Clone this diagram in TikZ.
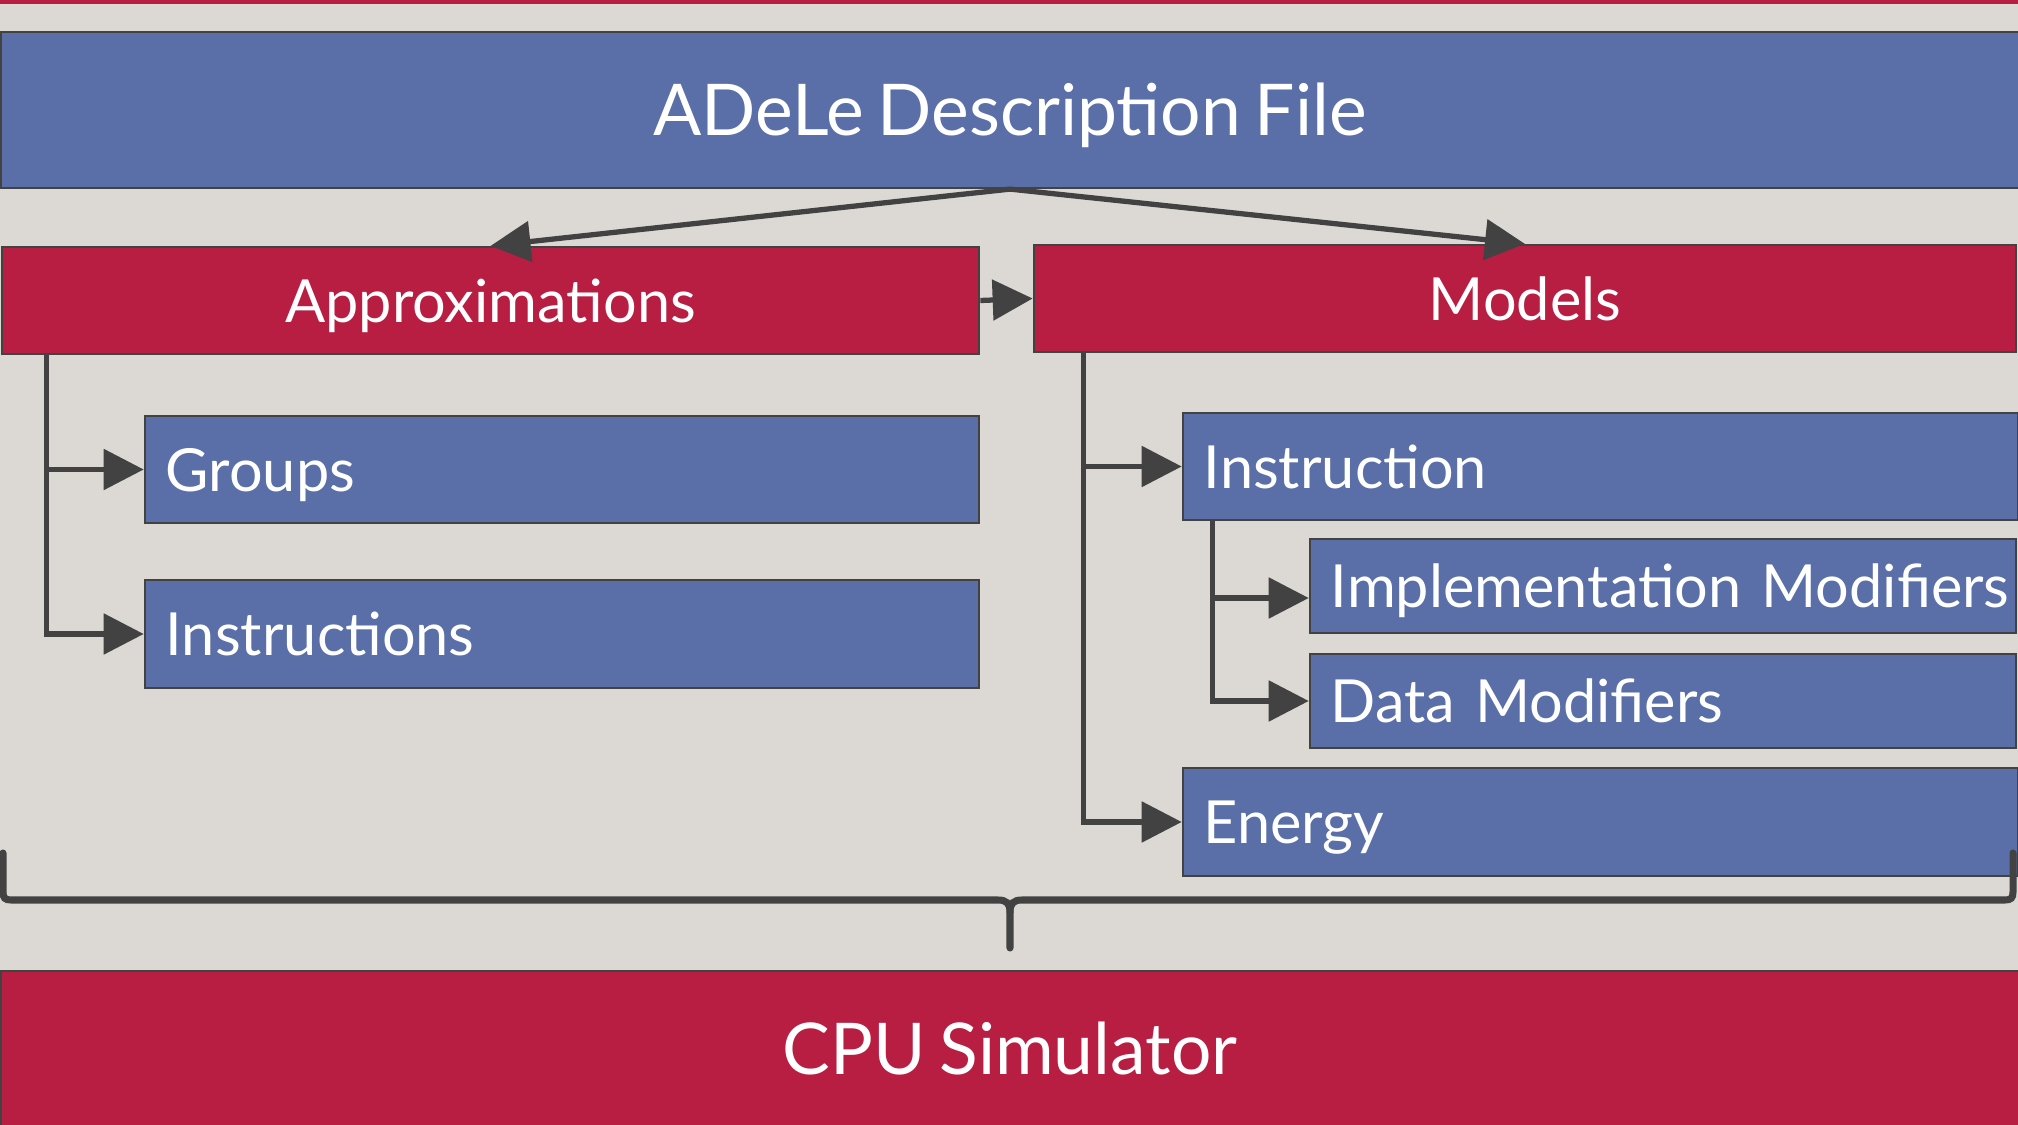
\documentclass[tikz,border=0pt]{standalone}
\usepackage{fontspec}
\setmainfont{Lato}[WordSpace=0.75]
\usetikzlibrary{arrows.meta, positioning, calc}
\definecolor{slideblue}{HTML}{5A6FA7}
\definecolor{slidered}{HTML}{B81E42}
\definecolor{edgegray}{HTML}{424242}
\definecolor{paperlight}{HTML}{E8E6E2}
\definecolor{paperdark}{HTML}{DCD9D4}

\tikzset{
  box/.style={rectangle, draw=edgegray, line width=0.6pt, text=white, inner sep=0pt},
  bluebox/.style={box, fill=slideblue},
  redbox/.style={box, fill=slidered},
  bigtxt/.style={font=\fontsize{20.3}{24}\selectfont, text height=0.51cm, text depth=0pt},
  midtxt/.style={font=\fontsize{16.9}{20}\selectfont, text height=0.43cm, text depth=0pt},
  listbox/.style={bluebox, midtxt, align=left, inner xsep=0.21cm},
  link/.style={draw=edgegray, line width=1.5pt, -{Triangle[length=0.4cm, width=0.4cm]}},
  brace/.style={draw=edgegray, line width=2pt, line cap=round}
}

\begin{document}
\begin{tikzpicture}[x=0.01cm, y=-0.01cm]
    % Slide background
    \useasboundingbox (0,0) rectangle (2018,1125);
    \clip (0,0) rectangle (2018,1125);
    \shade[left color=paperdark, middle color=paperlight, right color=paperdark] (0,0) rectangle (2018,1125);
    \fill[slidered] (0,0) rectangle (2018,4);

    % Top level file
    \node[bluebox, bigtxt, minimum width=20.16cm, minimum height=1.56cm] (adele) at (1010,110) {ADeLe Description File};

    % Two main sections
    \node[redbox, midtxt, minimum width=9.77cm, minimum height=1.07cm] (approx) at (490.5,300.5) {Approximations};
    \node[redbox, midtxt, minimum width=9.82cm, minimum height=1.07cm] (models) at (1525,298.5) {Models};

    % Approximations entries
    \node[listbox, text width=7.92cm, minimum height=1.07cm] (groups) at (562,469.5) {Groups};
    \node[listbox, text width=7.92cm, minimum height=1.08cm] (instrs) at (562,634) {Instructions};

    % Models entries
    \node[listbox, text width=7.93cm, minimum height=1.07cm] (instr) at (1600.5,466.5) {Instruction};
    \node[listbox, text width=6.64cm, minimum height=0.94cm] (implmod) at (1663,586) {\mbox{Implementation Modifiers}};
    \node[listbox, text width=6.64cm, minimum height=0.94cm] (datamod) at (1663,701) {Data Modifiers};
    \node[listbox, text width=7.93cm, minimum height=1.08cm] (energy) at (1600.5,822) {Energy};

    % Generated simulator
    \node[redbox, bigtxt, minimum width=20.16cm, minimum height=1.56cm] (cpu) at (1010,1049) {CPU Simulator};

    % Connectors
    \draw[link] (adele.south) -- (approx.north);
    \draw[link] (adele.south) -- (models.north);
    \draw[link] (approx.east) -- (models.west);

    \draw[link] ([xshift=0.46cm]approx.south west) |- (groups.west);
    \draw[link] ([xshift=0.46cm]approx.south west) |- (instrs.west);

    \draw[link] ([xshift=0.51cm]models.south west) |- (instr.west);
    \draw[link] ([xshift=0.51cm]models.south west) |- (energy.west);

    \draw[link] ([xshift=0.31cm]instr.south west) |- ([yshift=-0.12cm]implmod.west);
    \draw[link] ([xshift=0.31cm]instr.south west) |- (datamod.west);

    % Brace over everything
    \coordinate (bracetip) at (1010,948);
    \draw[brace] (3,853) -- (3,892) .. controls (3,898) and (5,900) .. (11,900) -- (998,900)
        .. controls (1006,900) and (1010,903) .. (1010,912) -- (bracetip);
    \draw[brace] (2013,853) -- (2013,892) .. controls (2013,898) and (2011,900) .. (2005,900) -- (1022,900)
        .. controls (1014,900) and (1010,903) .. (1010,912);
\end{tikzpicture}
\end{document}
